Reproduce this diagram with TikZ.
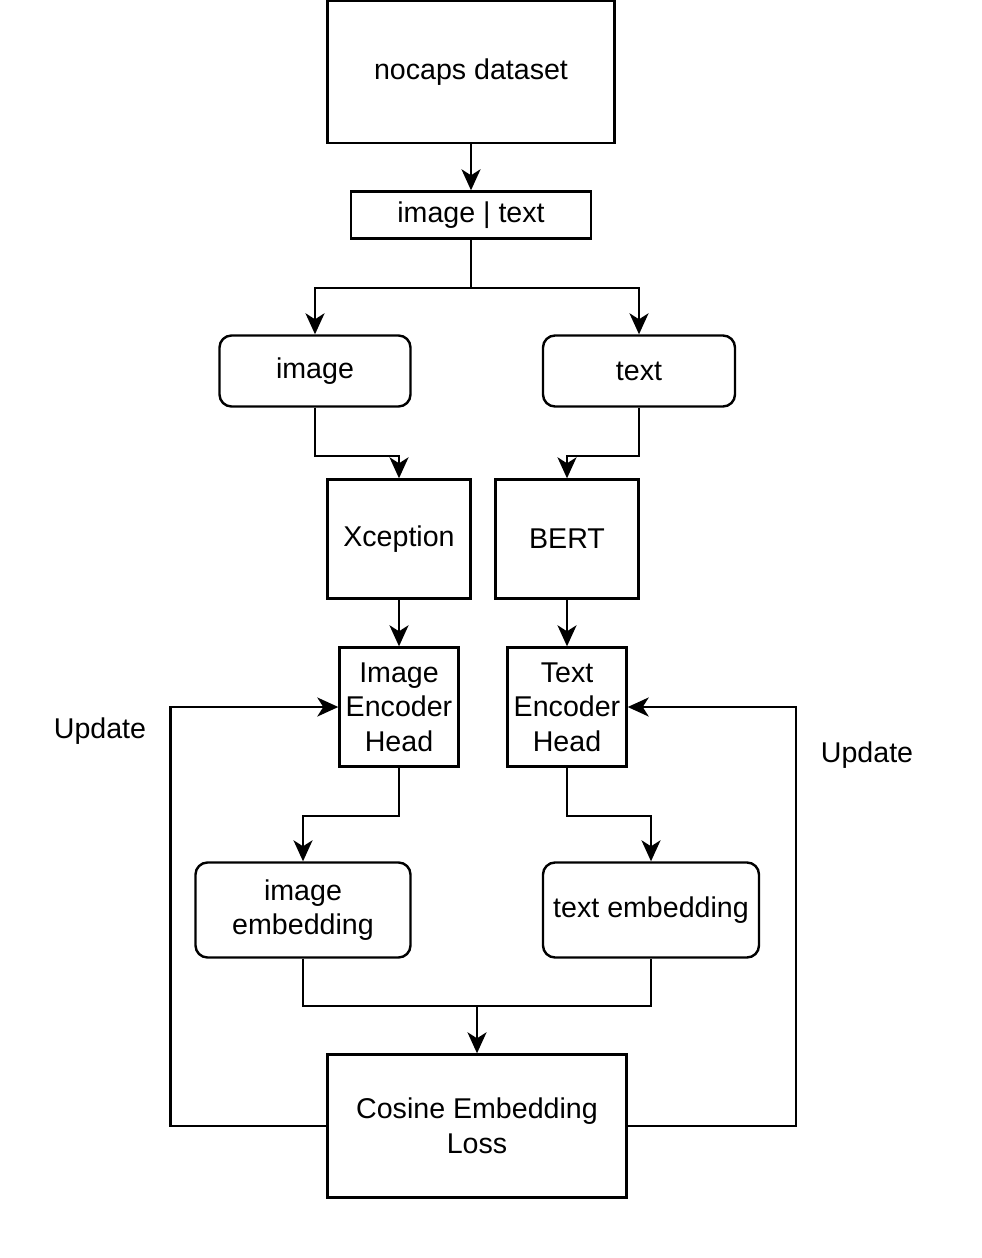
\documentclass[tikz,border=0pt]{standalone}
\usepackage{fontspec}
\setmainfont{Liberation Sans}
\usetikzlibrary{arrows.meta}
\begin{document}
\begin{tikzpicture}[x=1pt,y=-1pt,
  box/.style={draw, line width=2.4pt, align=center, font=\fontsize{28.6}{34.5}\selectfont, inner sep=0pt},
  rbox/.style={box, rounded corners=12pt},
  conn/.style={line width=2.4pt, -{Stealth[length=21pt,width=19pt,inset=6pt]}},
  plain/.style={line width=2.4pt},
  lbl/.style={font=\fontsize{28.6}{34.5}\selectfont, inner sep=0pt}]
\useasboundingbox (0,0) rectangle (982,1258);
\node[box, minimum width=287pt, minimum height=142pt] (nocaps) at (471,72) {nocaps dataset};
\node[box, minimum width=240pt, minimum height=47pt] (it) at (471,215) {image | text};
\node[rbox, minimum width=191pt, minimum height=71pt] (img) at (315,371) {image};
\node[rbox, minimum width=192pt, minimum height=71pt] (txt) at (639,371) {text};
\node[box, minimum width=143pt, minimum height=119pt] (xc) at (399,539) {Xception};
\node[box, minimum width=143pt, minimum height=119pt] (bert) at (567,539) {BERT};
\node[box, minimum width=119pt, minimum height=119pt] (ieh) at (399,707) {Image\\Encoder\\Head};
\node[box, minimum width=119pt, minimum height=119pt] (teh) at (567,707) {Text\\Encoder\\Head};
\node[rbox, minimum width=215pt, minimum height=95pt] (ie) at (303,910) {image\\embedding};
\node[rbox, minimum width=216pt, minimum height=95pt] (te) at (651,910) {text embedding};
\node[box, minimum width=299pt, minimum height=143pt] (loss) at (477,1126) {Cosine Embedding\\Loss};
\node[lbl] (upl) at (100,731) {Update};
\node[lbl] (upr) at (867,755) {Update};
\coordinate (join) at (477,1006);

\draw[conn] (nocaps) -- (it);
\draw[conn] (it.south) -- ++(0,48) -| (img.north);
\draw[conn] (it.south) -- ++(0,48) -| (txt.north);
\draw[conn] (img.south) -- ++(0,48) -| (xc.north);
\draw[conn] (txt.south) -- ++(0,48) -| (bert.north);
\draw[conn] (xc) -- (ieh);
\draw[conn] (bert) -- (teh);
\draw[conn] (ieh.south) -- ++(0,48) -| (ie.north);
\draw[conn] (teh.south) -- ++(0,48) -| (te.north);
\draw[plain] (ie.south) |- (join) -| (te.south);
\draw[conn] (join) -- (loss.north);
\draw[conn] (loss.west) -- ++(-156,0) |- (ieh.west);
\draw[conn] (loss.east) -- ++(168,0) |- (teh.east);
\end{tikzpicture}
\end{document}
